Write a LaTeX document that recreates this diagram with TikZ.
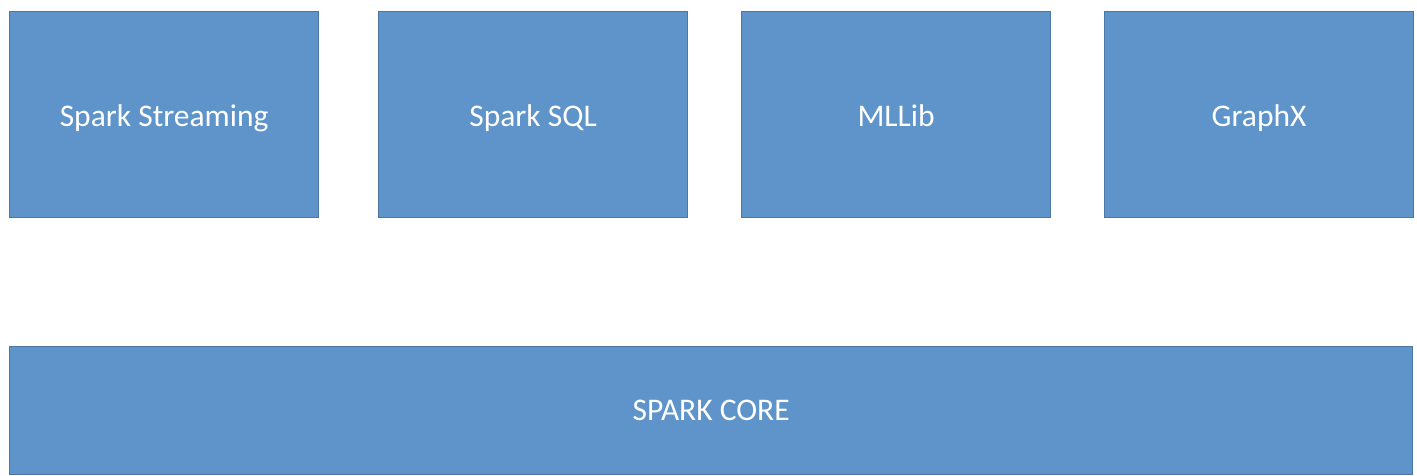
\documentclass[tikz,border=0pt]{standalone}
\usepackage{fontspec}
\setmainfont{Carlito}
\definecolor{boxfill}{HTML}{5E94C9}
\definecolor{boxline}{HTML}{4A77A3}
\begin{document}
\begin{tikzpicture}[x=1pt,y=-1pt,
  blk/.style={draw=boxline,line width=1.2pt,fill=boxfill,text=white,font=\fontsize{31.5}{36}\selectfont,inner sep=0pt,anchor=north west,text depth=0pt},
  upper/.style={blk,minimum width=309pt,minimum height=206pt,text height=24.3pt},
  lower/.style={blk,minimum width=1403pt,minimum height=128pt,text height=20.3pt}]
\useasboundingbox (0,0) rectangle (1417,476);
\node[upper] (ss) at (9,11) {Spark Streaming};
\node[upper] (sql) at (378,11) {Spark SQL};
\node[upper] (ml) at (741,11) {MLLib};
\node[upper] (gx) at (1104,11) {GraphX};
\node[lower] (core) at (9,346) {SPARK CORE};
\end{tikzpicture}
\end{document}
